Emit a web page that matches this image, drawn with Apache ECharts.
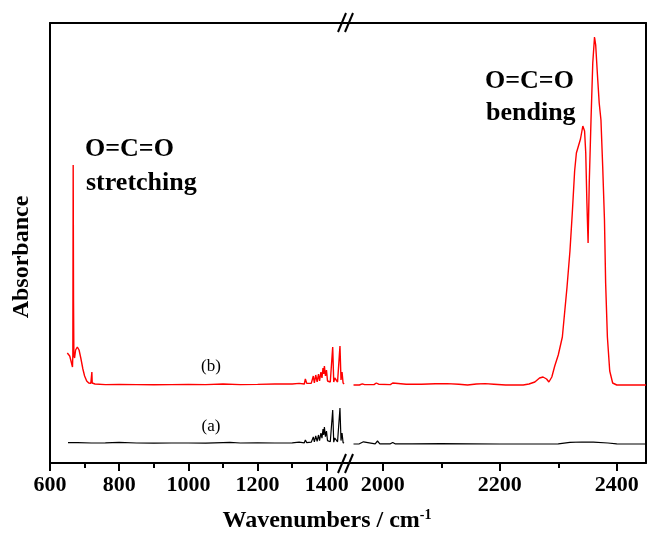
<!DOCTYPE html>
<html>
<head>
<meta charset="utf-8">
<script src="https://cdn.jsdelivr.net/npm/echarts@6/dist/echarts.min.js"></script>
<style>
    html, body { margin: 0; padding: 0; background: #fff; }
    #chart { width: 648px; height: 536px; }
</style>
</head>
<body>
<div id="chart"></div>
<script>
    // tick labels
    var lowTicks = [600, 800, 1000, 1200, 1400];
    var lowMinor = [700, 900, 1100, 1300];
    var highTicks = [2000, 2200, 2400];
    var highMinor = [2100, 2300];

    // (b) red spectrum, low wavenumber part
    var redLowWn = [650, 654, 657, 660, 663, 665, 666, 667, 668, 669, 671, 674, 679, 684, 689, 695, 700, 706, 712, 718, 720, 721, 722, 730, 760,
        800, 850, 900, 950, 1000, 1050, 1100, 1150, 1200, 1250, 1300, 1320, 1335, 1338, 1342, 1355, 1361, 1364, 1368, 1372, 1376, 1379, 1383,
        1386, 1389, 1391, 1393, 1396, 1399, 1402, 1406, 1410, 1414, 1417, 1420, 1423, 1427, 1431, 1435, 1438, 1441, 1444, 1447, 1450];
    var redLowAbs = [0.275, 0.28, 0.2675, 0.2575, 0.2525, 0.24, 0.27, 0.745, 0.4075, 0.27, 0.2625, 0.2825, 0.29, 0.2825, 0.2625, 0.235, 0.2175, 0.205, 0.2, 0.199, 0.2, 0.2275, 0.2, 0.1975, 0.196,
        0.1965, 0.196, 0.1955, 0.196, 0.1965, 0.196, 0.1975, 0.196, 0.1965, 0.1975, 0.1975, 0.199, 0.1975, 0.21, 0.199, 0.199, 0.2175, 0.2, 0.22, 0.203, 0.2225, 0.205, 0.2275,
        0.2125, 0.2375, 0.2225, 0.2425, 0.2175, 0.2325, 0.205, 0.21, 0.2025, 0.2, 0.29, 0.2025, 0.2125, 0.21, 0.2025, 0.2, 0.2925, 0.2075, 0.2275, 0.2, 0.1975];

    // (b) red spectrum, high wavenumber part
    var redHighWn = [1950, 1960, 1965, 1967, 1969, 1985, 1989, 1991, 1993, 2013, 2017, 2020, 2040, 2066, 2090, 2110, 2130, 2145, 2160, 2175, 2190, 2210, 2240,
        2250, 2260, 2268, 2274, 2280, 2284, 2289, 2294, 2300, 2307, 2315, 2320, 2324, 2328, 2331, 2334, 2338, 2342, 2345, 2347, 2349, 2351, 2353, 2356,
        2359, 2362, 2364, 2367, 2370, 2373, 2376, 2379, 2381, 2384, 2388, 2393, 2400, 2420, 2450];
    var redHighAbs = [0.195, 0.195, 0.198, 0.2025, 0.196, 0.196, 0.2, 0.205, 0.197, 0.196, 0.2, 0.196, 0.197, 0.197, 0.198, 0.1985, 0.197, 0.195, 0.1975, 0.1985, 0.197, 0.195, 0.195,
        0.1975, 0.2025, 0.2125, 0.215, 0.21, 0.2025, 0.215, 0.2425, 0.27, 0.315, 0.44, 0.53, 0.625, 0.73, 0.775, 0.79, 0.81, 0.8425, 0.83, 0.775, 0.65, 0.55, 0.7, 0.8575,
        1.0, 1.065, 1.045, 0.97, 0.9, 0.8575, 0.74, 0.6075, 0.45, 0.315, 0.23, 0.2, 0.195, 0.195, 0.195];

    // (a) black spectrum, low wavenumber part
    var blackLowWn = [652, 680, 720, 760, 800, 850, 900, 950, 1000, 1050, 1100, 1120, 1150, 1200, 1250, 1300, 1320, 1335, 1338, 1342, 1355, 1361, 1364, 1368, 1372, 1376, 1379, 1383,
        1386, 1389, 1391, 1393, 1396, 1399, 1402, 1406, 1410, 1414, 1417, 1420, 1423, 1427, 1431, 1435, 1438, 1441, 1444, 1447, 1450];
    var blackLowAbs = [0.051, 0.051, 0.05, 0.0505, 0.0515, 0.05, 0.0495, 0.05, 0.05, 0.0495, 0.051, 0.0515, 0.05, 0.0505, 0.05, 0.0505, 0.052, 0.0505, 0.0575, 0.051, 0.052, 0.065, 0.053, 0.0675, 0.054, 0.07, 0.056, 0.075,
        0.062, 0.085, 0.07, 0.09, 0.066, 0.08, 0.056, 0.06, 0.053, 0.052, 0.1325, 0.052, 0.0625, 0.0575, 0.053, 0.051, 0.1375, 0.056, 0.075, 0.051, 0.05];

    // (a) black spectrum, high wavenumber part
    var blackHighWn = [1950, 1960, 1967, 1970, 1987, 1991, 1995, 2013, 2017, 2021, 2050, 2100, 2150, 2200, 2250, 2300, 2320, 2340, 2360, 2385, 2400, 2450];
    var blackHighAbs = [0.0475, 0.048, 0.053, 0.048, 0.048, 0.055, 0.048, 0.048, 0.0515, 0.048, 0.048, 0.0485, 0.048, 0.0475, 0.0475, 0.048, 0.0515, 0.0525, 0.052, 0.05, 0.048, 0.0475];

    function zip(xs, ys) {
        return xs.map(function (x, i) { return [x, ys[i]]; });
    }

    var serif = '"Liberation Serif", "Times New Roman", serif';
    var lineStyleAxis = { color: '#000', width: 2 };

    function bottomAxis(grid, min, max, ticks, showLine, tickLen, labels) {
        return {
            type: 'value', gridIndex: grid, position: 'bottom', min: min, max: max,
            axisLine: { show: showLine, onZero: false, lineStyle: lineStyleAxis },
            axisTick: { show: true, length: tickLen, customValues: ticks, lineStyle: lineStyleAxis },
            axisLabel: labels ? {
                show: true, customValues: ticks, margin: 11, color: '#000',
                fontFamily: serif, fontWeight: 'bold', fontSize: 22,
                formatter: function (v) { return String(v); }
            } : { show: false },
            splitLine: { show: false }
        };
    }

    function topAxis(grid, min, max) {
        return {
            type: 'value', gridIndex: grid, position: 'top', min: min, max: max,
            axisLine: { show: true, onZero: false, lineStyle: lineStyleAxis },
            axisTick: { show: false }, axisLabel: { show: false }, splitLine: { show: false }
        };
    }

    var myChart = echarts.init(document.getElementById('chart'));
    var option = {
        animation: false,
        backgroundColor: '#fff',
        grid: [
            { left: 50, top: 23, width: 300, height: 440 },
            { left: 350, top: 23, width: 296, height: 440 }
        ],
        xAxis: [
            bottomAxis(0, 600, 1467, lowTicks, true, 8, true),
            bottomAxis(0, 600, 1467, lowMinor, false, 5, false),
            topAxis(0, 600, 1467),
            bottomAxis(1, 1944, 2450, highTicks, true, 8, true),
            bottomAxis(1, 1944, 2450, highMinor, false, 5, false),
            topAxis(1, 1944, 2450)
        ],
        yAxis: [
            {
                type: 'value', gridIndex: 0, position: 'left', min: 0, max: 1.1,
                axisLine: { show: true, onZero: false, lineStyle: lineStyleAxis },
                axisTick: { show: false }, axisLabel: { show: false }, splitLine: { show: false }
            },
            {
                type: 'value', gridIndex: 1, position: 'right', min: 0, max: 1.1,
                axisLine: { show: true, onZero: false, lineStyle: lineStyleAxis },
                axisTick: { show: false }, axisLabel: { show: false }, splitLine: { show: false }
            }
        ],
        series: [
            { name: '(b) low', type: 'line', xAxisIndex: 0, yAxisIndex: 0, data: zip(redLowWn, redLowAbs),
              showSymbol: false, lineStyle: { color: '#ff0000', width: 1.4 } },
            { name: '(b) high', type: 'line', xAxisIndex: 3, yAxisIndex: 1, data: zip(redHighWn, redHighAbs),
              showSymbol: false, lineStyle: { color: '#ff0000', width: 1.4 } },
            { name: '(a) low', type: 'line', xAxisIndex: 0, yAxisIndex: 0, data: zip(blackLowWn, blackLowAbs),
              showSymbol: false, lineStyle: { color: '#000', width: 1.2 } },
            { name: '(a) high', type: 'line', xAxisIndex: 3, yAxisIndex: 1, data: zip(blackHighWn, blackHighAbs),
              showSymbol: false, lineStyle: { color: '#000', width: 1.2 } }
        ],
        graphic: [
            // axis break marks
            { type: 'rect', shape: { x: 341, y: 20, width: 10, height: 6 }, style: { fill: '#fff' } },
            { type: 'rect', shape: { x: 341, y: 460, width: 10, height: 6 }, style: { fill: '#fff' } },
            { type: 'line', shape: { x1: 338, y1: 32, x2: 346, y2: 13 }, style: { stroke: '#000', lineWidth: 2 } },
            { type: 'line', shape: { x1: 345, y1: 32, x2: 353, y2: 13 }, style: { stroke: '#000', lineWidth: 2 } },
            { type: 'line', shape: { x1: 338, y1: 473, x2: 346, y2: 454 }, style: { stroke: '#000', lineWidth: 2 } },
            { type: 'line', shape: { x1: 345, y1: 473, x2: 353, y2: 454 }, style: { stroke: '#000', lineWidth: 2 } },
            // annotations
            { type: 'text', x: 85, y: 149, style: { text: 'O=C=O', font: 'bold 26px ' + serif, fill: '#000', textVerticalAlign: 'middle' } },
            { type: 'text', x: 86, y: 183, style: { text: 'stretching', font: 'bold 26px ' + serif, fill: '#000', textVerticalAlign: 'middle' } },
            { type: 'text', x: 485, y: 81, style: { text: 'O=C=O', font: 'bold 26px ' + serif, fill: '#000', textVerticalAlign: 'middle' } },
            { type: 'text', x: 486, y: 113, style: { text: 'bending', font: 'bold 26px ' + serif, fill: '#000', textVerticalAlign: 'middle' } },
            { type: 'text', x: 211, y: 367, style: { text: '(b)', font: '17px ' + serif, fill: '#000', textAlign: 'center', textVerticalAlign: 'middle' } },
            { type: 'text', x: 211, y: 427, style: { text: '(a)', font: '17px ' + serif, fill: '#000', textAlign: 'center', textVerticalAlign: 'middle' } },
            { type: 'text', x: 22, y: 257, rotation: Math.PI / 2,
              style: { text: 'Absorbance', font: 'bold 24px ' + serif, fill: '#000', textAlign: 'center', textVerticalAlign: 'middle' } },
            {
                type: 'text', x: 327, y: 521,
                style: {
                    text: '{t|Wavenumbers / cm}{s|-1}',
                    textAlign: 'center', textVerticalAlign: 'middle',
                    rich: {
                        t: { fontFamily: serif, fontWeight: 'bold', fontSize: 24, fill: '#000', lineHeight: 26 },
                        s: { fontFamily: serif, fontWeight: 'bold', fontSize: 14, fill: '#000', verticalAlign: 'top', lineHeight: 26 }
                    }
                }
            }
        ]
    };
    myChart.setOption(option);
</script>
</body>
</html>
